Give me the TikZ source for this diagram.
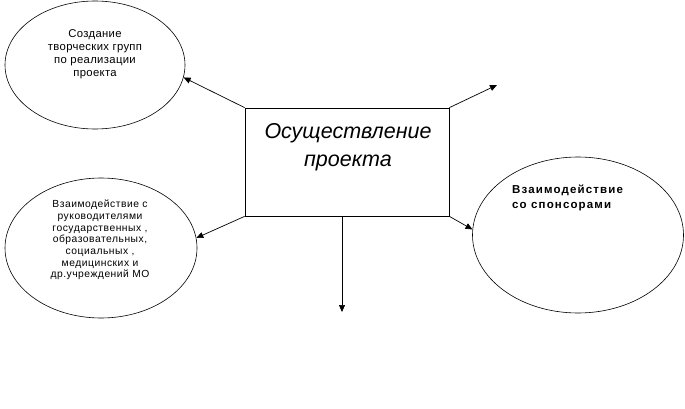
\documentclass[tikz,border=0pt]{standalone}
\usepackage{fontspec}
\setmainfont{Liberation Sans}
\usetikzlibrary{shapes.geometric,arrows.meta}
\begin{document}
\begin{tikzpicture}[x=1pt,y=-1pt,
  oval/.style={draw,ellipse,line width=0.6pt,inner sep=0pt},
  conn/.style={draw,line width=0.7pt,-{Triangle[length=7pt,width=6pt]}},
  txt/.style={inner sep=0pt,align=center}]
\useasboundingbox (0,0) rectangle (685,409);
\node[oval,minimum width=180pt,minimum height=128pt] (e1) at (95,65) {};
\node[oval,minimum width=192pt,minimum height=140pt] (e2) at (101,248) {};
\node[oval,minimum width=211pt,minimum height=156pt] (e3) at (578,235) {};
\node[draw,line width=0.7pt,minimum width=204pt,minimum height=108pt,inner sep=0pt] (r) at (347,162) {};
\node[txt,font=\fontsize{21.5}{28}\selectfont\itshape] (rt) at (348,147) {Осуществление\\проекта};
\node[txt,font=\fontsize{11.3}{13}\selectfont\addfontfeatures{LetterSpace=3}] (t1) at (95,54) {Создание\\творческих групп\\по реализации\\проекта};
\node[txt,font=\fontsize{10.3}{11.7}\selectfont\addfontfeatures{LetterSpace=5}] (t2) at (100,240) {Взаимодействие с\\руководителями\\государственных ,\\образовательных,\\социальных ,\\медицинских и\\др.учреждений МО};
\node[txt,align=left,anchor=north west,font=\fontsize{11.5}{15}\selectfont\bfseries\addfontfeatures{LetterSpace=10}] (t3) at (512,185) {Взаимодействие\\со спонсорами};
\coordinate (c1) at (497,85);
\coordinate (c2) at (342,312);
\coordinate (rb) at (342,216);
\draw[conn] (r.north west) -- (e1.-8);
\draw[conn] (r.north east) -- (c1);
\draw[conn] (r.south west) -- (e2.6);
\draw[conn] (r.south east) -- (e3.177);
\draw[conn] (rb) -- (c2);
\end{tikzpicture}
\end{document}
